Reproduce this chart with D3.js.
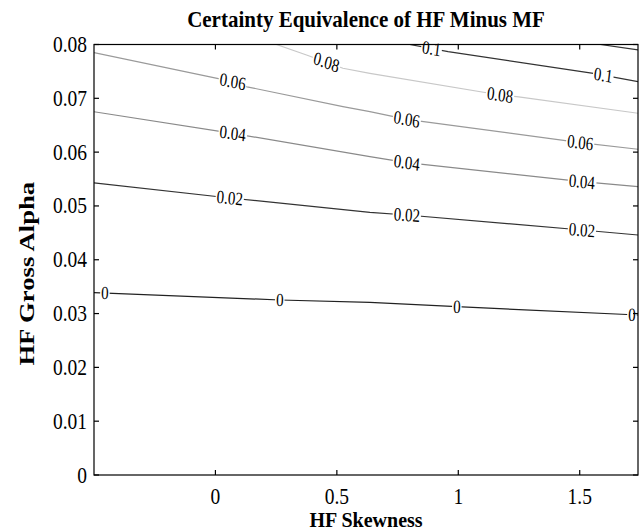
<!DOCTYPE html>
<html>
<head>
<meta charset="utf-8" />
<title>Certainty Equivalence of HF Minus MF</title>
<style>
  body { margin: 0; background: #fff; }
  text { font-family: "Liberation Serif", "Times New Roman", serif; fill: #000; }
  .axis-line { stroke: #000; stroke-width: 1.2px; fill: none; }
  .contour { fill: none; stroke-width: 1.2px; }
</style>
</head>
<body>
<script src="https://cdn.jsdelivr.net/npm/d3@7"></script>
<script>
// ticks
var skewTicks = [0, 0.5, 1, 1.5];
var alphaTicks = [0, 0.01, 0.02, 0.03, 0.04, 0.05, 0.06, 0.07, 0.08];

// contour levels and the traced lines (HF skewness, HF gross alpha)
var levels = [0, 0.02, 0.04, 0.06, 0.08, 0.1, 0.12];
var line000 = [[-0.5, 0.0339], [0.265, 0.03252], [0.636, 0.03209], [0.994, 0.03128], [1.74, 0.02973]];
var line002 = [[-0.5, 0.0543], [0.059, 0.05148], [0.636, 0.04882], [0.788, 0.04832], [1.509, 0.04553], [1.74, 0.0446]];
var line004 = [[-0.5, 0.0675], [0.071, 0.0635], [0.636, 0.05915], [0.788, 0.05804], [1.509, 0.05451], [1.74, 0.05358]];
var line006 = [[-0.5, 0.0785], [0.071, 0.0731], [0.13, 0.07214], [0.525, 0.06845], [0.636, 0.06752], [0.788, 0.0661], [1.502, 0.06176], [1.74, 0.06053]];
var line008 = [[0.251, 0.08], [0.375, 0.07805], [0.525, 0.07558], [0.636, 0.07465], [1.172, 0.07062], [1.241, 0.0703], [1.74, 0.06722]];
var line010 = [[0.80, 0.08], [0.958, 0.07867], [1.556, 0.07465], [1.74, 0.0731]];
var line012 = [[1.585, 0.08], [1.74, 0.0790]];
var lines = [line000, line002, line004, line006, line008, line010, line012];
var lineColors = ["#222", "#333", "#8a8a8a", "#9a9a9a", "#c8c8c8", "#333", "#333"];

// where the inline labels sit (skewness position along each line)
var labelSpots = [
  [-0.455, 0.265, 0.994, 1.715],
  [0.059, 0.788, 1.509],
  [0.071, 0.788, 1.509],
  [0.071, 0.788, 1.502],
  [0.457, 1.172],
  [0.89, 1.597],
  []
];

var width = 643, height = 532;
var margin = {top: 44.5, right: 5, bottom: 57, left: 94};
var SY = 1.2; // text in the picture looks stretched a little vertically

var svg = d3.select("body").append("svg")
  .attr("width", width)
  .attr("height", height);

var x = d3.scaleLinear().domain([-0.5, 1.74]).range([margin.left, width - margin.right]);
var y = d3.scaleLinear().domain([0, 0.08]).range([height - margin.bottom, margin.top]);

function stretchedText(sel, px, py, str, size, opts) {
  opts = opts || {};
  var g = sel.append("g")
    .attr("transform", "translate(" + px + "," + py + ") scale(1," + (opts.sy || SY) + ")");
  var t = g.append("text")
    .attr("text-anchor", opts.anchor || "middle")
    .attr("font-size", size)
    .attr("font-weight", opts.bold ? "bold" : null)
    .attr("transform", opts.rotate ? "rotate(" + opts.rotate + ")" : null)
    .attr("dy", opts.dy || 0)
    .text(str);
  return {g: g, t: t};
}

// contour lines
var lineGen = d3.line().x(function(d) { return x(d[0]); }).y(function(d) { return y(d[1]); });
var plot = svg.append("g");
plot.append("clipPath").attr("id", "clip")
  .append("rect")
  .attr("x", x.range()[0]).attr("y", y.range()[1])
  .attr("width", x.range()[1] - x.range()[0])
  .attr("height", y.range()[0] - y.range()[1]);

plot.selectAll("path.contour")
  .data(lines)
  .enter().append("path")
  .attr("class", "contour")
  .attr("clip-path", "url(#clip)")
  .attr("stroke", function(d, i) { return lineColors[i]; })
  .attr("d", lineGen);

// inline labels, rotated with the line, with a white gap behind
function yAt(pts, sx) {
  for (var i = 0; i < pts.length - 1; i++) {
    if (sx >= pts[i][0] && sx <= pts[i + 1][0]) {
      var t = (sx - pts[i][0]) / (pts[i + 1][0] - pts[i][0]);
      return {v: pts[i][1] + t * (pts[i + 1][1] - pts[i][1]), a: pts[i], b: pts[i + 1]};
    }
  }
  return {v: pts[pts.length - 1][1], a: pts[pts.length - 2], b: pts[pts.length - 1]};
}

var labelSY = 1.25;
levels.forEach(function(lv, i) {
  labelSpots[i].forEach(function(sx) {
    var hit = yAt(lines[i], sx);
    var px = x(sx), py = y(hit.v);
    var dx = x(hit.b[0]) - x(hit.a[0]);
    var dyy = (y(hit.b[1]) - y(hit.a[1])) / labelSY;
    var ang = Math.atan2(dyy, dx) * 180 / Math.PI;
    var lab = stretchedText(plot, px, py, String(lv), 15, {sy: labelSY, rotate: ang, dy: "0.33em"});
    var bb = lab.t.node().getBBox();
    lab.g.insert("rect", "text")
      .attr("x", bb.x - 1).attr("y", bb.y + 2)
      .attr("width", bb.width + 2).attr("height", bb.height - 4)
      .attr("transform", "rotate(" + ang + ")")
      .attr("fill", "#fff");
  });
});

// frame and inward ticks
var x0 = x.range()[0], x1 = x.range()[1], y0 = y.range()[0], y1 = y.range()[1];
svg.append("rect").attr("class", "axis-line")
  .attr("x", x0).attr("y", y1).attr("width", x1 - x0).attr("height", y0 - y1);

var tickLen = 5;
var axes = svg.append("g").attr("class", "ticks");
skewTicks.forEach(function(v) {
  axes.append("line").attr("class", "axis-line").attr("x1", x(v)).attr("x2", x(v)).attr("y1", y0).attr("y2", y0 - tickLen);
  axes.append("line").attr("class", "axis-line").attr("x1", x(v)).attr("x2", x(v)).attr("y1", y1).attr("y2", y1 + tickLen);
  stretchedText(axes, x(v), y0 + 29, d3.format("")(v), 19.5);
});
alphaTicks.forEach(function(v) {
  axes.append("line").attr("class", "axis-line").attr("y1", y(v)).attr("y2", y(v)).attr("x1", x0).attr("x2", x0 + tickLen);
  axes.append("line").attr("class", "axis-line").attr("y1", y(v)).attr("y2", y(v)).attr("x1", x1).attr("x2", x1 - tickLen);
  stretchedText(axes, x0 - 7, y(v) + 7.5, d3.format("")(v), 19.5, {anchor: "end"});
});

// titles
stretchedText(svg, (x0 + x1) / 2, 27, "Certainty Equivalence of HF Minus MF", 21, {bold: true, sy: 1.1});
stretchedText(svg, (x0 + x1) / 2, 526.5, "HF Skewness", 20, {bold: true, sy: 1.0});
stretchedText(svg, 34, (y0 + y1) / 2 + 14, "HF Gross Alpha", 21, {bold: true, rotate: -90, sy: 1.27});
</script>
</body>
</html>
